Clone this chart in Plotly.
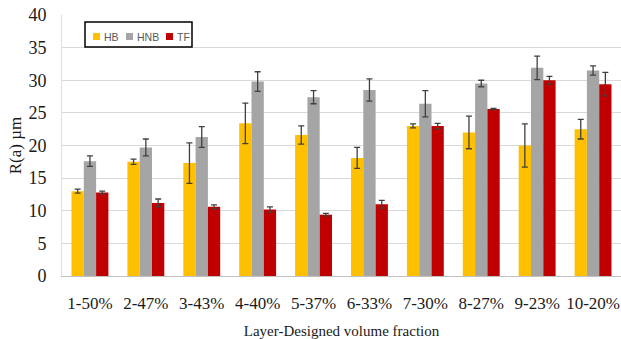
import plotly.graph_objects as go

categories = ["1-50%", "2-47%", "3-43%", "4-40%", "5-37%", "6-33%", "7-30%", "8-27%", "9-23%", "10-20%"]
hb = [13.0, 17.5, 17.3, 23.4, 21.6, 18.1, 23.0, 22.0, 20.0, 22.5]
hb_err = [0.3, 0.4, 3.1, 3.1, 1.4, 1.6, 0.3, 2.5, 3.3, 1.5]
hnb = [17.6, 19.7, 21.3, 29.8, 27.4, 28.5, 26.4, 29.5, 31.9, 31.5]
hnb_err = [0.8, 1.3, 1.6, 1.5, 1.0, 1.7, 2.0, 0.5, 1.8, 0.7]
tf = [12.8, 11.2, 10.6, 10.2, 9.4, 11.0, 23.0, 25.6, 30.0, 29.4]
tf_err = [0.2, 0.6, 0.3, 0.4, 0.2, 0.6, 0.4, 0.1, 0.6, 1.8]

series = [
    ("HB", hb, hb_err, "#FFC000"),
    ("HNB", hnb, hnb_err, "#A5A5A5"),
    ("TF", tf, tf_err, "#C00000"),
]

W, H = 621, 339
ML, MR, MT, MB = 62, 0, 15, 63
PW, PH = W - ML - MR, H - MT - MB


def px(x):
    return (x - ML) / PW


def py(y):
    return 1 - (y - MT) / PH


fig = go.Figure()
for name, vals, errs, color in series:
    fig.add_trace(go.Bar(
        name=name, x=categories, y=vals, marker_color=color, marker_line_width=0,
        showlegend=False,
        error_y=dict(type="data", array=errs, visible=True, color="#404040",
                     thickness=1.3, width=3),
    ))

# Compact boxed legend
shapes = [dict(type="rect", xref="paper", yref="paper",
               x0=px(85), x1=px(192), y0=py(47), y1=py(22),
               line=dict(color="black", width=1.5), fillcolor="white", layer="above")]
annotations = []
legend_items = [("HB", "#FFC000", 93, 102), ("HNB", "#A5A5A5", 126, 135), ("TF", "#C00000", 166, 175)]
for label, color, sx, tx in legend_items:
    shapes.append(dict(type="rect", xref="paper", yref="paper",
                       x0=px(sx), x1=px(sx + 7), y0=py(40), y1=py(33),
                       line=dict(width=0), fillcolor=color, layer="above"))
    annotations.append(dict(text=label, xref="paper", yref="paper", x=px(tx), y=py(36.5),
                            xanchor="left", yanchor="middle", showarrow=False,
                            font=dict(family="Liberation Sans", size=10.5, color="#595959")))

serif = "Times New Roman"
fig.update_layout(
    width=W, height=H,
    margin=dict(l=ML, r=MR, t=MT, b=MB),
    font=dict(family=serif, color="#1a1a1a"),
    paper_bgcolor="white", plot_bgcolor="white",
    barmode="group", bargap=0.34, bargroupgap=0,
    shapes=shapes, annotations=annotations,
    xaxis=dict(showgrid=False, showline=True, linecolor="#bfbfbf", linewidth=1,
               ticks="", ticklabelstandoff=12,
               tickfont=dict(family=serif, size=17, color="#1a1a1a"),
               title=dict(text="Layer-Designed volume fraction",
                          font=dict(family=serif, size=15, color="#1a1a1a"), standoff=14)),
    yaxis=dict(range=[0, 40], dtick=5, showgrid=True, gridcolor="#d9d9d9", gridwidth=1,
               showline=True, linecolor="#e0e0e0", zeroline=False,
               ticks="outside", ticklen=11, tickcolor="rgba(0,0,0,0)",
               tickfont=dict(family=serif, size=18, color="#1a1a1a"),
               title=dict(text="R(a) µm", font=dict(family=serif, size=17, color="#1a1a1a"), standoff=2)),
)

fig.write_html("out.html")
